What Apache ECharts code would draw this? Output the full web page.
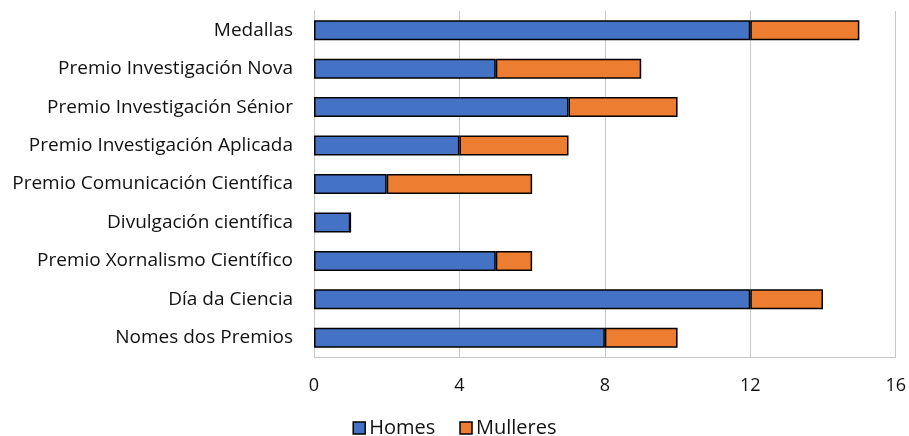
<!DOCTYPE html>
<html><head><meta charset="utf-8">
<script src="https://cdn.jsdelivr.net/npm/echarts@6/dist/echarts.min.js"></script>
<style>html,body{margin:0;padding:0;background:#fff}#c{width:909px;height:436px}</style>
</head><body><div id="c"></div>
<script>
const categories = ["Medallas","Premio Investigación Nova","Premio Investigación Sénior","Premio Investigación Aplicada","Premio Comunicación Científica","Divulgación científica","Premio Xornalismo Científico","Día da Ciencia","Nomes dos Premios"];
const homes = [12,5,7,4,2,1,5,12,8];
const mulleres = [3,4,3,3,4,0,1,2,2];
const xTicks = [0,4,8,12,16];
const font = "'Open Sans', sans-serif";
const chart = echarts.init(document.getElementById('c'));
chart.setOption({
  animation:false,
  textStyle:{fontFamily:font},
  grid:{left:314,right:11,top:11,bottom:79,containLabel:false},
  legend:{top:413,left:'center',itemWidth:12,itemHeight:12,itemGap:24,icon:'rect',
    textStyle:{fontFamily:font,fontSize:20,color:'#111',padding:[0,0,0,-1]},
    data:[{name:'Homes',itemStyle:{borderColor:'#000',borderWidth:1.5}},{name:'Mulleres',itemStyle:{borderColor:'#000',borderWidth:1.5}}]},
  xAxis:{type:'value',min:0,max:16,interval:4,
    axisLine:{show:true,lineStyle:{color:'#c8c8c8'}},axisTick:{show:false},
    axisLabel:{fontSize:18,color:'#111',margin:20,fontFamily:font},
    splitLine:{lineStyle:{color:'#c8c8c8',width:1}}},
  yAxis:{type:'category',data:categories,inverse:true,
    axisLine:{show:true,lineStyle:{color:'#c8c8c8'}},axisTick:{show:false},
    axisLabel:{fontSize:19,color:'#111',margin:21,fontFamily:font}},
  series:[
    {name:'Homes',type:'bar',stack:'t',data:homes,barWidth:'52%',
      itemStyle:{color:'#4472C4',borderColor:'#000',borderWidth:1.5}},
    {name:'Mulleres',type:'bar',stack:'t',data:mulleres,barWidth:'52%',
      itemStyle:{color:'#ED7D31',borderColor:'#000',borderWidth:1.5}}
  ]
});
</script></body></html>
